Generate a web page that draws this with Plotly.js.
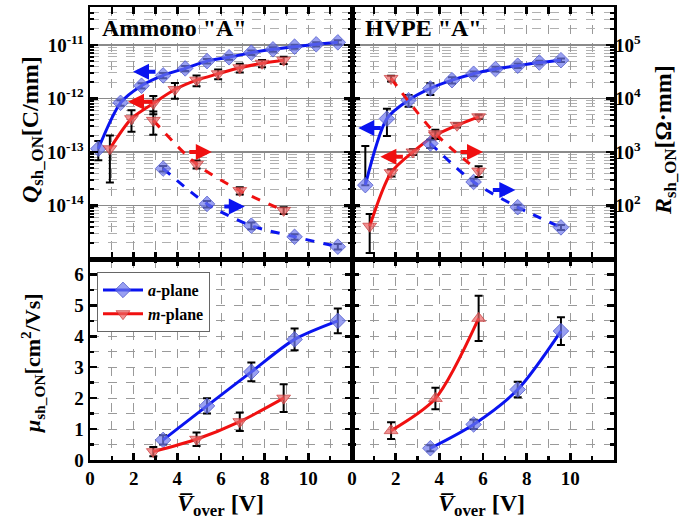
<!DOCTYPE html>
<html><head><meta charset="utf-8">
<script src="https://cdn.plot.ly/plotly-3.0.1.min.js"></script>
<style>html,body{margin:0;padding:0;background:#fff}#plot{width:698px;height:526px}</style>
</head><body><div id="plot"></div>
<script>
// ---------- DATA ----------
// Ammono "A" : sheet charge Q (left axis), a-plane / m-plane
const ammonoQaX = [0.38,1.40,2.36,3.35,4.36,5.36,6.37,7.39,8.38,9.37,10.36,11.35];
const ammonoQaY = [1.15e-13,8.3e-13,1.73e-12,2.7e-12,3.65e-12,5.0e-12,5.9e-12,7.2e-12,8.3e-12,9.3e-12,1.03e-11,1.12e-11];
const ammonoQaE = [4.5e-14,1e-13,2e-13,3e-13,4e-13,5e-13,6e-13,7e-13,8e-13,8e-13,9e-13,1e-12];
const ammonoQmX = [0.91,1.90,2.90,3.89,4.88,5.87,6.86,7.88,8.87];
const ammonoQmY = [1.15e-13,4.2e-13,8.1e-13,1.47e-12,2.2e-12,2.9e-12,3.76e-12,4.55e-12,5.2e-12];
const ammonoQmE = [8.8e-14,1.8e-13,3e-13,4.8e-13,5e-13,6e-13,7e-13,7e-13,8e-13];
// Ammono "A" : sheet resistance R (right axis)
const ammonoRaX = [3.35,5.36,7.39,9.37,11.35];
const ammonoRaY = [490,107,42,26,17];
const ammonoRaE = [60,15,6,3,2];
const ammonoRmX = [2.90,4.88,6.86,8.87];
const ammonoRmY = [3900,590,190,81];
const ammonoRmE = [1800,100,30,12];
// HVPE "A" : Q
const hvpeQaX = [0.61,1.60,2.59,3.59,4.58,5.57,6.57,7.59,8.58,9.57];
const hvpeQaY = [2.4e-14,4.2e-13,9.3e-13,1.54e-12,2.2e-12,2.9e-12,3.55e-12,4.1e-12,4.7e-12,5.2e-12];
const hvpeQaEp = [1.05e-13,2.2e-13,2.3e-13,3.8e-13,3e-13,3e-13,3.5e-13,4e-13,4e-13,4e-13];
const hvpeQaEm = [0,2.2e-13,2.3e-13,3.8e-13,3e-13,3e-13,3.5e-13,4e-13,4e-13,4e-13];
const hvpeQmX = [0.81,1.79,2.79,3.82,4.81,5.80];
const hvpeQmY = [4.1e-15,4.1e-14,1.0e-13,2.05e-13,3.16e-13,4.55e-13];
const hvpeQmE = [2.8e-15,6e-15,1.2e-14,3e-14,3e-14,4e-14];
// HVPE "A" : R
const hvpeRaX = [3.59,5.57,7.59,9.57];
const hvpeRaY = [1440,275,93,39];
const hvpeRaE = [250,40,10,4];
const hvpeRmX = [1.79,3.82,5.80];
const hvpeRmY = [23700,2200,440];
const hvpeRmE = [3000,400,100];
// Mobility
const ammonoMuaX = [3.35,5.36,7.39,9.37,11.35];
const ammonoMuaY = [0.65,1.75,2.85,3.90,4.50];
const ammonoMuaE = [0.15,0.25,0.30,0.35,0.40];
const ammonoMumX = [2.90,4.88,6.86,8.87];
const ammonoMumY = [0.27,0.67,1.24,2.00];
const ammonoMumE = [0.15,0.22,0.30,0.45];
const hvpeMuaX = [3.59,5.57,7.59,9.57];
const hvpeMuaY = [0.38,1.15,2.28,4.17];
const hvpeMuaE = [0.10,0.15,0.25,0.45];
const hvpeMumX = [1.79,3.82,5.80];
const hvpeMumY = [0.95,1.99,4.58];
const hvpeMumE = [0.27,0.35,0.73];
// tick labels
const xTickVals = [0,2,4,6,8,10];
const xTickText = ['0','2','4','6','8','10'];
const muTickVals = [0,1,2,3,4,5,6];
const muTickText = ['0','1','2','3','4','5','6'];
const qTickVals = [1e-14,1e-13,1e-12,1e-11];
const qTickText = ['10<sup>-14</sup>','10<sup>-13</sup>','10<sup>-12</sup>','10<sup>-11</sup>'];
const rTickVals = [1e2,1e3,1e4,1e5];
const rTickText = ['10<sup>2</sup>','10<sup>3</sup>','10<sup>4</sup>','10<sup>5</sup>'];

// ---------- STYLE ----------
const BLUE='#0a14f0', RED='#f01010';
const blueMk={symbol:'diamond',size:12,color:'rgba(110,120,235,0.7)',line:{color:'rgba(70,80,200,0.7)',width:1}};
const redDn={symbol:'triangle-down',size:12,color:'rgba(235,100,100,0.7)',line:{color:'rgba(200,60,60,0.7)',width:1}};
const redUp={symbol:'triangle-up',size:12,color:'rgba(235,100,100,0.7)',line:{color:'rgba(200,60,60,0.7)',width:1}};
function eb(p,m){return {type:'data',array:p,arrayminus:m||p,symmetric:false,color:'black',thickness:2,width:4};}
function tr(x,y,e,em,xa,ya,color,mk,dash,name,leg){
  return {x:x,y:y,xaxis:xa,yaxis:ya,type:'scatter',mode:'lines+markers',name:name||'',showlegend:!!leg,
    line:{color:color,width:3,shape:'spline',smoothing:0.8,dash:dash||'solid'},marker:mk,error_y:eb(e,em)};
}
const traces=[
  tr(ammonoQaX,ammonoQaY,ammonoQaE,null,'x','y',BLUE,blueMk),
  tr(ammonoQmX,ammonoQmY,ammonoQmE,null,'x','y',RED,redDn),
  tr(ammonoRaX,ammonoRaY,ammonoRaE,null,'x','y5',BLUE,blueMk,'dash'),
  tr(ammonoRmX,ammonoRmY,ammonoRmE,null,'x','y5',RED,redDn,'dash'),
  tr(hvpeQaX,hvpeQaY,hvpeQaEp,hvpeQaEm,'x2','y3',BLUE,blueMk),
  tr(hvpeQmX,hvpeQmY,hvpeQmE,null,'x2','y3',RED,redDn),
  tr(hvpeRaX,hvpeRaY,hvpeRaE,null,'x2','y6',BLUE,blueMk,'dash'),
  tr(hvpeRmX,hvpeRmY,hvpeRmE,null,'x2','y6',RED,redDn,'dash'),
  tr(ammonoMuaX,ammonoMuaY,ammonoMuaE,null,'x3','y2',BLUE,blueMk,'solid','<b><i>a</i>-plane</b>',true),
  tr(ammonoMumX,ammonoMumY,ammonoMumE,null,'x3','y2',RED,redDn,'solid','<b><i>m</i>-plane</b>',true),
  tr(hvpeMuaX,hvpeMuaY,hvpeMuaE,null,'x4','y4',BLUE,blueMk),
  tr(hvpeMumX,hvpeMumY,hvpeMumE,null,'x4','y4',RED,redUp)
];

// ---------- AXES ----------
const W=698,H=526;
const xL=[90/W,352/W], xR=[352/W,614/W];
const yT=[1-259/H,1-7/H], yB=[1-460/H,1-259/H];
const FONT='Liberation Serif';
const tickFont={family:FONT,size:19,color:'black',weight:'bold'};
const GRID='#9a9a9a';
const bold=a=>a.map(s=>'<b>'+s+'</b>');
function xax(dom,anchor,labels){
  return {domain:dom,anchor:anchor,range:[0,12],tickmode:'array',tickvals:xTickVals,ticktext:bold(xTickText),showticklabels:labels,
    ticks:'inside',ticklen:7,tickwidth:2.5,tickcolor:'black',mirror:'allticks',showline:true,linewidth:2.5,linecolor:'black',
    showgrid:true,gridcolor:GRID,griddash:'dash',gridwidth:1,zeroline:false,tickfont:tickFont,
    minor:{tickmode:'array',tickvals:[1,3,5,7,9,11],ticks:'inside',ticklen:4,tickwidth:2.5,tickcolor:'black',showgrid:true,gridcolor:GRID,griddash:'dash',gridwidth:1}};
}
const qMinor=[], rMinor=[];
for(let e=-16;e<=-10;e++){for(let m=2;m<=9;m++){qMinor.push(m*Math.pow(10,e));}}
for(let e=0;e<=6;e++){for(let m=2;m<=9;m++){rMinor.push(m*Math.pow(10,e));}}
function logax(dom,anchor,labels){
  return {domain:dom,anchor:anchor,type:'log',range:[-15,-10.29],tickmode:'array',tickvals:qTickVals,ticktext:bold(qTickText),
    showticklabels:labels,ticks:'inside',ticklen:8,tickwidth:2.5,tickcolor:'black',mirror:'allticks',showline:true,linewidth:2.5,linecolor:'black',
    showgrid:true,gridcolor:'#8a8a8a',gridwidth:1.2,zeroline:false,tickfont:tickFont,
    minor:{tickmode:'array',tickvals:qMinor,ticks:'inside',ticklen:4,tickwidth:2,tickcolor:'black',showgrid:true,gridcolor:'#b0b0b0',griddash:'dash',gridwidth:1}};
}
function linax(dom,anchor,labels){
  return {domain:dom,anchor:anchor,range:[0,6.5],tickmode:'array',tickvals:muTickVals,ticktext:bold(muTickText),showticklabels:labels,
    ticks:'inside',ticklen:7,tickwidth:2.5,tickcolor:'black',mirror:'allticks',showline:true,linewidth:2.5,linecolor:'black',
    showgrid:true,gridcolor:GRID,griddash:'dash',gridwidth:1,zeroline:false,tickfont:tickFont,
    minor:{tickmode:'linear',tick0:0.5,dtick:1,ticks:'inside',ticklen:4,tickwidth:2.5,tickcolor:'black',showgrid:true,gridcolor:GRID,griddash:'dash',gridwidth:1}};
}
const layout={
  width:W,height:H,margin:{l:0,r:0,t:0,b:0},paper_bgcolor:'white',plot_bgcolor:'white',
  font:{family:FONT,color:'black'},
  xaxis:xax(xL,'y',false), xaxis2:xax(xR,'y3',false),
  xaxis3:xax(xL,'y2',true), xaxis4:xax(xR,'y4',true),
  yaxis:logax(yT,'x',true), yaxis3:logax(yT,'x2',false),
  yaxis2:linax(yB,'x3',true), yaxis4:linax(yB,'x4',false),
  yaxis5:{overlaying:'y',type:'log',range:[1,5.71],visible:false},
  yaxis6:{overlaying:'y3',anchor:'x2',side:'right',type:'log',range:[1,5.71],tickmode:'array',tickvals:rTickVals,ticktext:bold(rTickText),
    ticks:'inside',ticklen:8,tickwidth:2.5,tickcolor:'black',showline:false,showgrid:false,zeroline:false,tickfont:tickFont,
    minor:{tickmode:'array',tickvals:rMinor,ticks:'inside',ticklen:4,tickwidth:2,tickcolor:'black',showgrid:false}},
  showlegend:true,
  legend:{x:97/W,y:1-272/H,xanchor:'left',yanchor:'top',bgcolor:'white',bordercolor:'#666',borderwidth:1,
    font:{family:FONT,size:16,color:'black'},itemwidth:40,tracegroupgap:0},
  annotations:[],
};
const A=layout.annotations;
function ttl(text,x,y,ang,size){A.push({xref:'paper',yref:'paper',x:x/W,y:1-y/H,text:'<b>'+text+'</b>',showarrow:false,textangle:ang||0,
  xanchor:'center',yanchor:'middle',font:{family:FONT,size:size||20,color:'black',weight:'bold'}});}
ttl('<i>Q</i><sub>sh_ON</sub>[C/mm]',32,130,-90,24);
ttl('<i>R</i><sub>sh_ON</sub>[Ω·mm]',665,140,-90,24);
ttl('<i>μ</i><sub>sh_ON</sub>[cm<sup>2</sup>/Vs]',32,363,-90,22);
ttl('<i>V̅</i><sub>over</sub> [V]',220,505,0,24);
ttl('<i>V̅</i><sub>over</sub> [V]',482,505,0,24);
A.push({xref:'paper',yref:'paper',x:100/W,y:1-28/H,xanchor:'left',yanchor:'middle',showarrow:false,text:'<b>Ammono "A"</b>',font:{family:FONT,size:24,weight:'bold',color:'black'}});
A.push({xref:'paper',yref:'paper',x:363/W,y:1-28/H,xanchor:'left',yanchor:'middle',showarrow:false,text:'<b>HVPE "A"</b>',font:{family:FONT,size:24,weight:'bold',color:'black'}});
// direction arrows (axis markers)
function arr(xr,yr,x,y,ax,color){A.push({xref:xr,yref:yr,x:x,y:y,ax:ax,ay:0,showarrow:true,arrowhead:2,arrowsize:0.8,arrowwidth:4,arrowcolor:color,text:''});}
arr('x','y',1.97,-11.5,24,BLUE);
arr('x','y',1.74,-12.06,26,RED);
arr('x','y',5.58,-13.0,-24,RED);
arr('x','y',7.09,-14.02,-22,BLUE);
arr('x2','y3',0.29,-12.55,24,BLUE);
arr('x2','y3',1.30,-13.09,24,RED);
arr('x2','y3',6.0,-13.0,-24,RED);
arr('x2','y3',7.48,-13.71,-24,BLUE);
Plotly.newPlot('plot',traces,layout,{displayModeBar:false,staticPlot:true});
</script></body></html>
